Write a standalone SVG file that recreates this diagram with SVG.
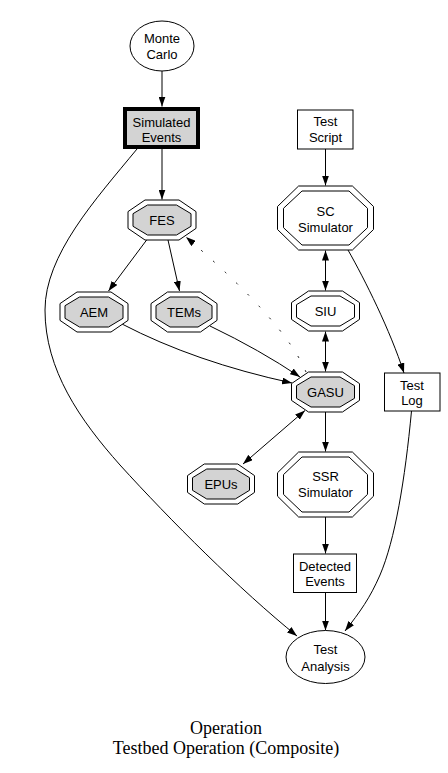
<svg xmlns="http://www.w3.org/2000/svg" width="448" height="773" viewBox="0 0 448 773">
<style>
.nd{fill:#fff;stroke:#000;stroke-width:1}
.gy{fill:#d3d3d3;stroke:#000;stroke-width:1}
.t{font-family:"Liberation Sans",Arial,sans-serif;font-size:13px;text-anchor:middle;fill:#000}
.cap{font-family:"Liberation Serif","Times New Roman",serif;font-size:18px;text-anchor:middle;fill:#000}
.e{fill:none;stroke:#000;stroke-width:1}
.a{marker-end:url(#ah)}
.b{marker-start:url(#ah);marker-end:url(#ah)}
.dot{stroke-dasharray:2,14}
</style>
<defs>
<marker id="ah" viewBox="0 0 10 7" refX="10" refY="3.5" markerWidth="10" markerHeight="7" markerUnits="userSpaceOnUse" orient="auto-start-reverse">
<path d="M0,0 L10,3.5 L0,7 z" fill="#000"/>
</marker>
</defs>
<rect width="448" height="773" fill="#fff"/>

<g id="edges">
<path class="e a" d="M162,71 L162,106.5"/>
<path class="e a" d="M162,149 L162,199.5"/>
<path class="e a" d="M137,149 C95,200 45,255 45,310 C45,370 80,420 120,465 C170,520 240,590 297,636"/>
<path class="e a" d="M147,239.5 L108.5,291"/>
<path class="e a" d="M168,240 L179.5,291"/>
<path class="e a" d="M122,324 Q195,362 292,383"/>
<path class="e a" d="M210,326 Q260,350 300,377"/>
<path class="e a dot" d="M306,372 Q285,322 186,237"/>
<path class="e a" d="M325.5,149 L325.5,185.5"/>
<path class="e b" d="M325.5,250.5 L325.5,290.5"/>
<path class="e b" d="M325.5,331.5 L325.5,371.5"/>
<path class="e a" d="M348,250 C365,280 390,330 404,373"/>
<path class="e b" d="M305,410.5 L243,464"/>
<path class="e a" d="M325.5,412 L325.5,451.5"/>
<path class="e a" d="M325.5,517 L325.5,553.5"/>
<path class="e a" d="M325.5,592.5 L325.5,630.5"/>
<path class="e a" d="M411.5,411 C405,480 395,540 380,575 C370,598 360,612 345,631"/>
</g>

<g id="monte_carlo">
<ellipse class="nd" cx="162" cy="46" rx="32" ry="25"/>
<text class="t" x="162" y="42.5">Monte</text>
<text class="t" x="162" y="58.5">Carlo</text>
</g>

<g id="simulated_events">
<rect x="125" y="109" width="73" height="38" fill="#d3d3d3" stroke="#000" stroke-width="4"/>
<text class="t" x="161.5" y="126.5">Simulated</text>
<text class="t" x="161.5" y="142">Events</text>
</g>

<g id="fes">
<polygon class="nd" points="145,200 179,200 196,211.6 196,228.4 179,240 145,240 128,228.4 128,211.6"/>
<polygon class="gy" points="147.5,205 176.5,205 191,213.7 191,226.3 176.5,235 147.5,235 133,226.3 133,213.7"/>
<text class="t" x="162" y="224.5">FES</text>
</g>

<g id="aem">
<polygon class="nd" points="77,292 111,292 128,303.6 128,320.4 111,332 77,332 60,320.4 60,303.6"/>
<polygon class="gy" points="79.5,297 108.5,297 123,305.7 123,318.3 108.5,327 79.5,327 65,318.3 65,305.7"/>
<text class="t" x="94" y="316.5">AEM</text>
</g>

<g id="tems">
<polygon class="nd" points="167.5,292 200.5,292 217,303.6 217,320.4 200.5,332 167.5,332 151,320.4 151,303.6"/>
<polygon class="gy" points="170,297 198,297 212,305.7 212,318.3 198,327 170,327 156,318.3 156,305.7"/>
<text class="t" x="184" y="316.5">TEMs</text>
</g>

<g id="test_script">
<rect class="nd" x="297.5" y="110" width="55.5" height="39"/>
<text class="t" x="325.5" y="126">Test</text>
<text class="t" x="325.5" y="141.5">Script</text>
</g>

<g id="sc_simulator">
<polygon class="nd" points="298.6,186 352.4,186 373.5,206.5 373.5,229.5 352.4,250 298.6,250 277.5,229.5 277.5,206.5"/>
<polygon class="nd" points="302,191 349,191 367.5,208.3 367.5,227.7 349,245 302,245 283.5,227.7 283.5,208.3"/>
<text class="t" x="325.5" y="216">SC</text>
<text class="t" x="325.5" y="232">Simulator</text>
</g>

<g id="siu">
<polygon class="nd" points="308.5,291 342.5,291 359.5,302.6 359.5,319.4 342.5,331 308.5,331 291.5,319.4 291.5,302.6"/>
<polygon class="nd" points="311,296 340,296 354.5,304.7 354.5,317.3 340,326 311,326 296.5,317.3 296.5,304.7"/>
<text class="t" x="325.5" y="315.5">SIU</text>
</g>

<g id="gasu">
<polygon class="nd" points="308.5,372 342.5,372 359.5,383.6 359.5,400.4 342.5,412 308.5,412 291.5,400.4 291.5,383.6"/>
<polygon class="gy" points="311,377 340,377 354.5,385.7 354.5,398.3 340,407 311,407 296.5,398.3 296.5,385.7"/>
<text class="t" x="325.5" y="396.5">GASU</text>
</g>

<g id="test_log">
<rect class="nd" x="384.5" y="373" width="55.5" height="38"/>
<text class="t" x="412" y="389.5">Test</text>
<text class="t" x="412" y="405">Log</text>
</g>

<g id="epus">
<polygon class="nd" points="204.25,464 237.75,464 254.5,475.6 254.5,492.4 237.75,504 204.25,504 187.5,492.4 187.5,475.6"/>
<polygon class="gy" points="206.75,469 235.25,469 249.5,477.7 249.5,490.3 235.25,499 206.75,499 192.5,490.3 192.5,477.7"/>
<text class="t" x="221" y="488.5">EPUs</text>
</g>

<g id="ssr_simulator">
<polygon class="nd" points="298.6,452 352.4,452 373.5,472.8 373.5,496.2 352.4,517 298.6,517 277.5,496.2 277.5,472.8"/>
<polygon class="nd" points="302,457 349,457 367.5,474.6 367.5,494.4 349,512 302,512 283.5,494.4 283.5,474.6"/>
<text class="t" x="325.5" y="481">SSR</text>
<text class="t" x="325.5" y="497">Simulator</text>
</g>

<g id="detected_events">
<rect class="nd" x="293.5" y="554" width="63" height="38.5"/>
<text class="t" x="325" y="570.5">Detected</text>
<text class="t" x="325" y="586">Events</text>
</g>

<g id="test_analysis">
<ellipse class="nd" cx="325.5" cy="657" rx="39.5" ry="26.5"/>
<text class="t" x="325.5" y="653.5">Test</text>
<text class="t" x="325.5" y="670.5">Analysis</text>
</g>

<g id="caption">
<text class="cap" x="226" y="734">Operation</text>
<text class="cap" x="226" y="754">Testbed Operation (Composite)</text>
</g>
</svg>
